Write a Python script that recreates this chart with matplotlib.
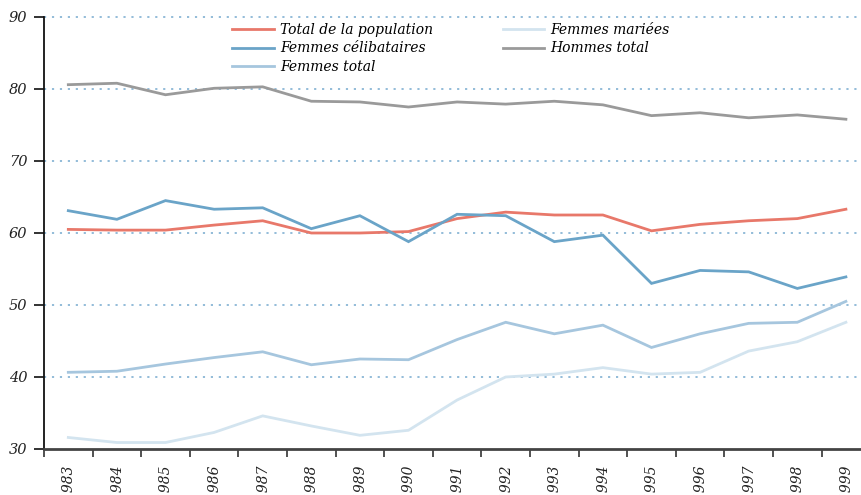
import matplotlib
matplotlib.use("Agg")
import matplotlib.pyplot as plt
from matplotlib.ticker import FixedLocator, NullFormatter

# data
years = [str(y) for y in range(1983, 2000)]
total_population = [60.5, 60.4, 60.4, 61.1, 61.7, 60.0, 60.0, 60.2, 62.0, 62.9, 62.5,
                    62.5, 60.3, 61.2, 61.7, 62.0, 63.3]
femmes_celibataires = [63.1, 61.9, 64.5, 63.3, 63.5, 60.6, 62.4, 58.8, 62.6, 62.4, 58.8,
                       59.7, 53.0, 54.8, 54.6, 52.3, 53.9]
femmes_total = [40.65, 40.8, 41.8, 42.7, 43.5, 41.7, 42.5, 42.4, 45.2, 47.6, 46.0,
                47.2, 44.1, 46.0, 47.45, 47.6, 50.5]
femmes_mariees = [31.6, 30.9, 30.9, 32.3, 34.6, 33.2, 31.9, 32.6, 36.8, 40.0, 40.4,
                  41.3, 40.4, 40.65, 43.6, 44.9, 47.6]
hommes_total = [80.6, 80.8, 79.2, 80.1, 80.3, 78.3, 78.2, 77.5, 78.2, 77.9, 78.3,
                77.8, 76.3, 76.7, 76.0, 76.4, 75.8]

series = [
    ("Total de la population", total_population, "#e8786a"),
    ("Femmes célibataires", femmes_celibataires, "#6aa4c8"),
    ("Femmes total", femmes_total, "#a6c6de"),
    ("Femmes mariées", femmes_mariees, "#d3e4ef"),
    ("Hommes total", hommes_total, "#9a9a9a"),
]

plt.rcParams['font.family'] = ['DejaVu Serif']
plt.rcParams['font.style'] = 'italic'

fig = plt.figure(figsize=(8.61, 4.95), dpi=100)
ax = fig.add_axes([44 / 861, 1 - 449 / 495, 1 - 44 / 861, (449 - 17) / 495])

x = list(range(len(years)))
for name, vals, col in series:
    ax.plot(x, vals, color=col, lw=2.0, label=name, solid_joinstyle='miter', zorder=3)

ax.set_ylim(30, 90)
ax.set_xlim(-0.5, -0.5 + (861 - 44) / 48.6)

for v in range(40, 91, 10):
    ax.axhline(v, color="#8ab6d6", lw=1.3, ls=(0, (1.2, 3.2)), zorder=1, clip_on=False)

ax.set_yticks(range(30, 91, 10))
ax.tick_params(axis='y', length=7, width=1.3, labelsize=10.5, pad=5, colors='#222222')

ax.xaxis.set_major_locator(FixedLocator([i - 0.5 for i in range(len(years))]))
ax.xaxis.set_major_formatter(NullFormatter())
ax.xaxis.set_minor_locator(FixedLocator(x))
ax.set_xticklabels(years, minor=True, rotation=90, va='top', ha='center')
ax.tick_params(axis='x', which='major', length=6, width=1.2, color='#333333')
ax.tick_params(axis='x', which='minor', length=0, pad=11, labelsize=10, colors='#222222')

for s in ['top', 'right']:
    ax.spines[s].set_visible(False)
ax.spines['left'].set_linewidth(1.3)
ax.spines['left'].set_color('#111111')
ax.spines['bottom'].set_linewidth(2.0)
ax.spines['bottom'].set_color('#444444')

leg = ax.legend(ncol=2, loc='upper left', bbox_to_anchor=(0.215, 1.016), frameon=False,
                fontsize=10, handlelength=3.0, columnspacing=5.0, labelspacing=0.35,
                handletextpad=0.45)

fig.savefig("out.png", dpi=100)
